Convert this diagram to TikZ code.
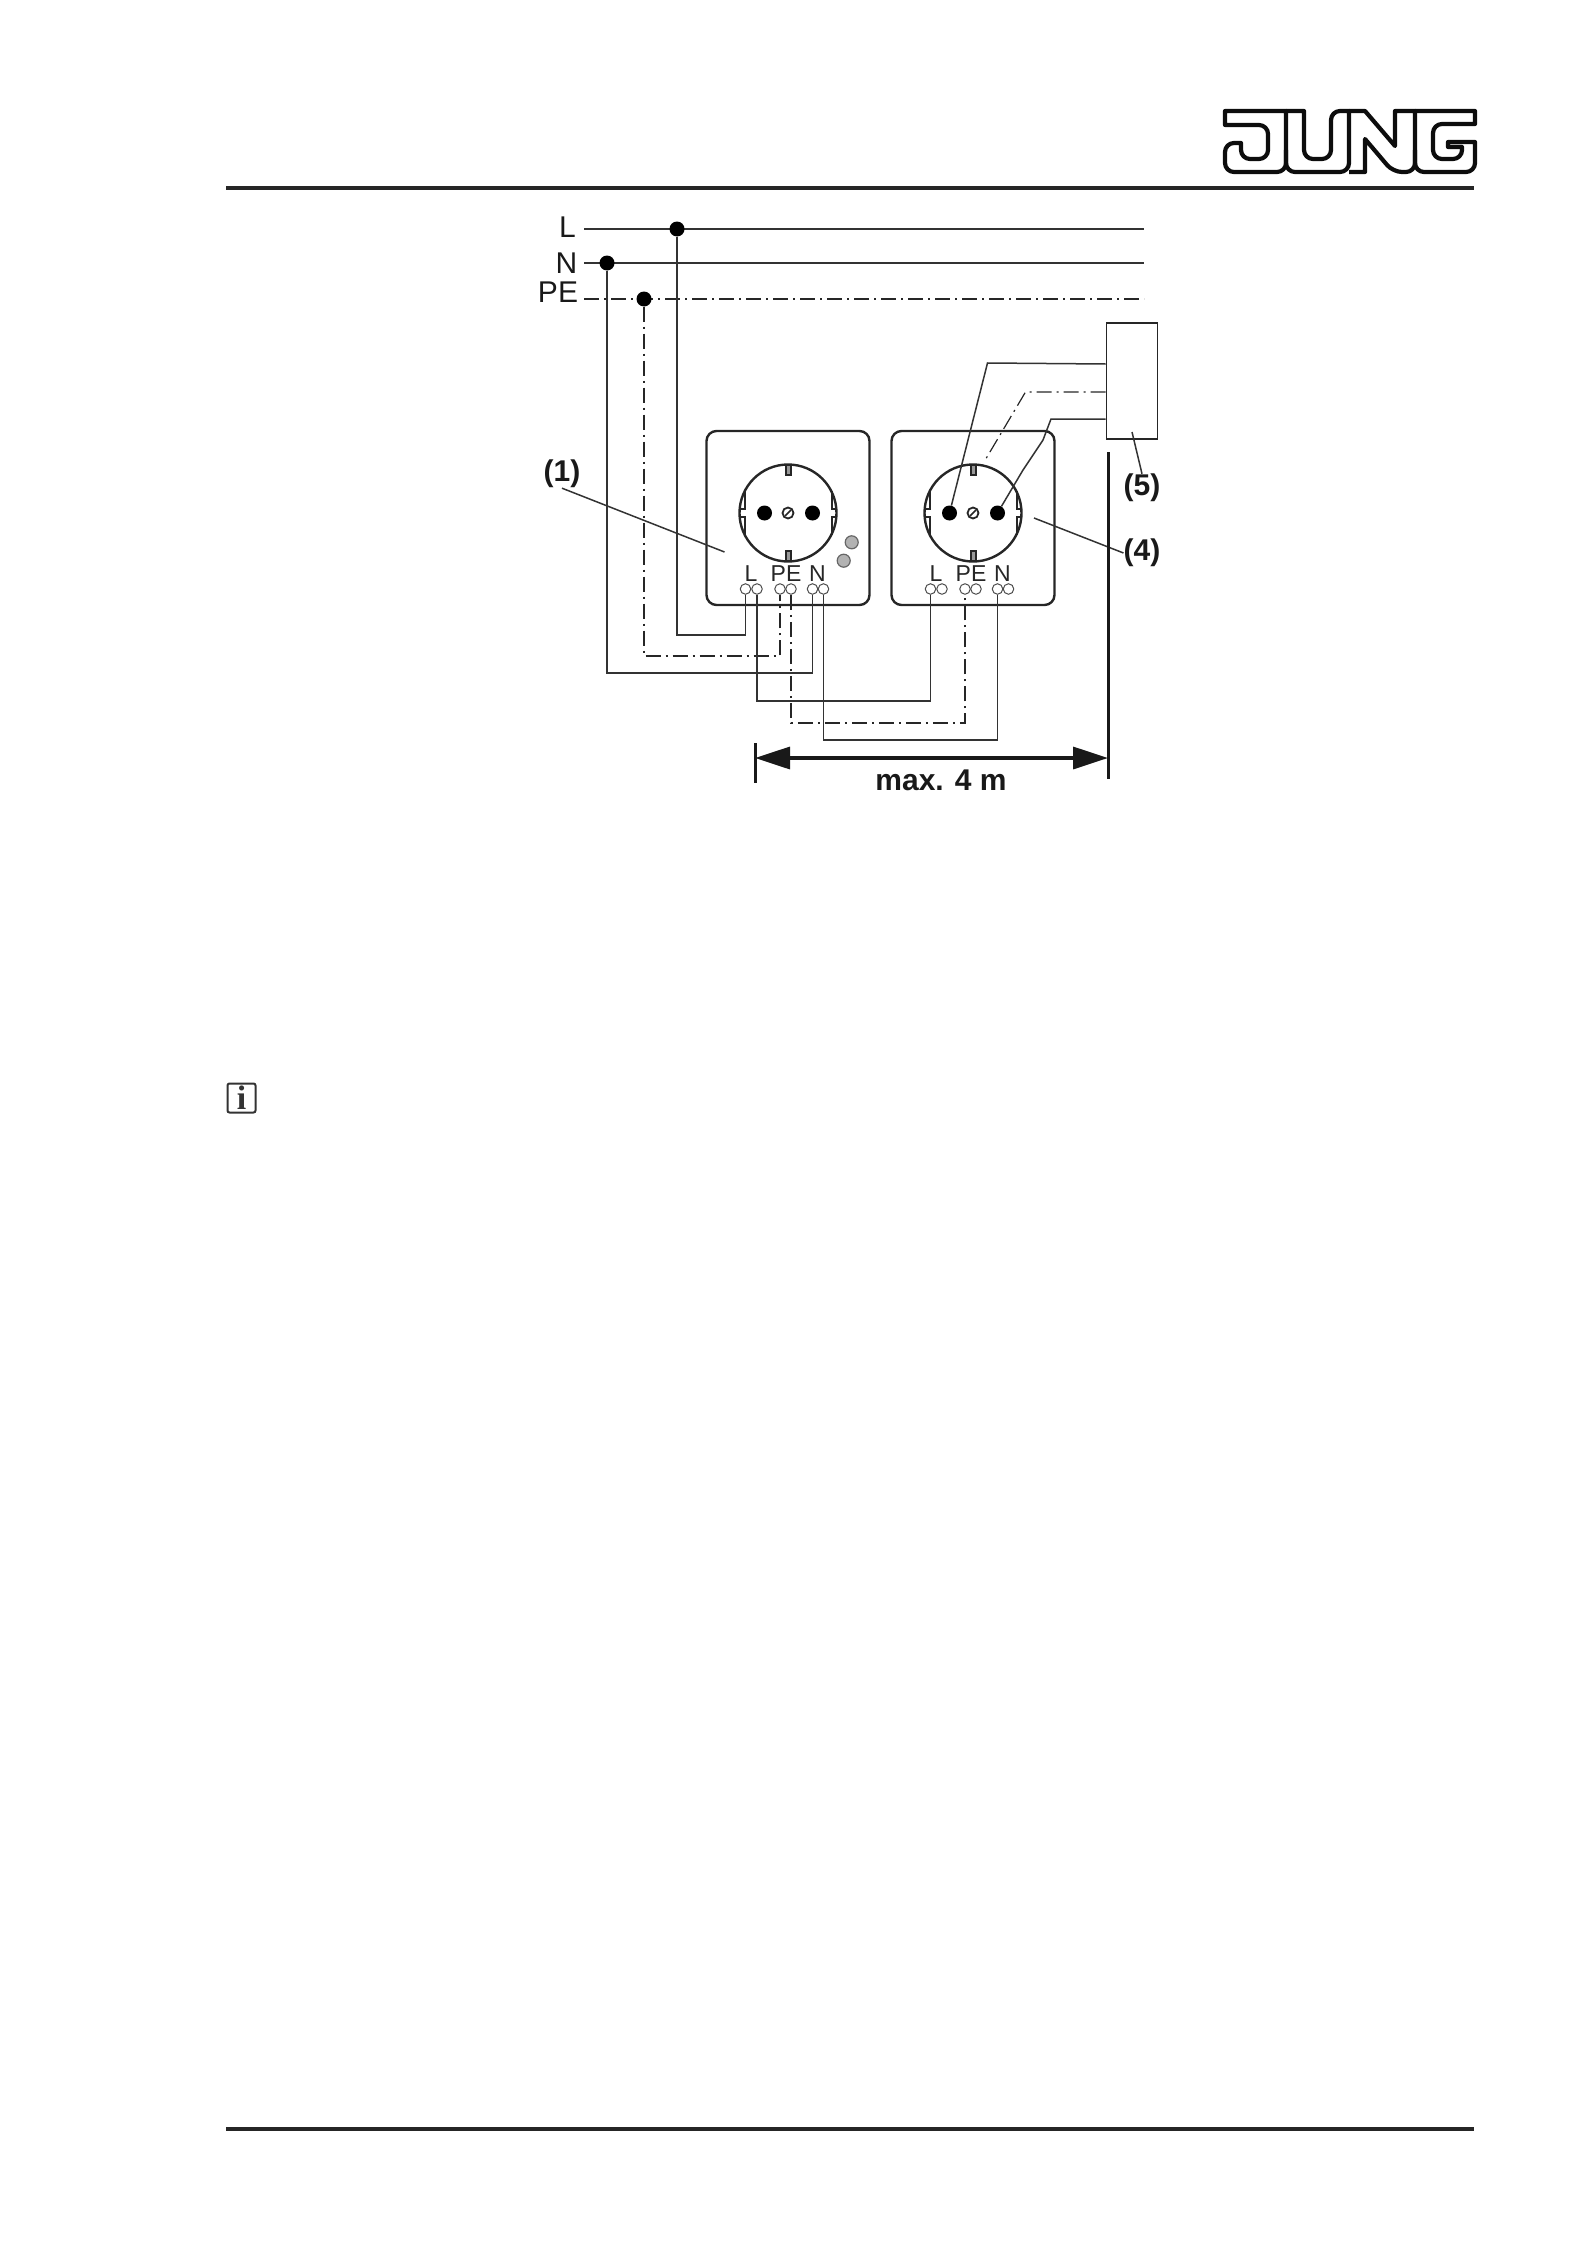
\documentclass[tikz,border=0pt]{standalone}
\usepackage{fontspec}
\setmainfont{Liberation Sans}
\newfontfamily\iconfont{Liberation Serif}
\usetikzlibrary{arrows.meta}
\tikzset{
  rule/.style={line width=4pt,black!85},
  logoline/.style={line width=4.2pt,black!95,line join=round},
  bus/.style={line width=2pt,black!80},
  wire/.style={line width=1.5pt,black!80},
  earth/.style={line width=1.2pt,black!85,dash pattern=on 15pt off 5pt on 2pt off 5pt},
  joint/.style={circle,fill=black,inner sep=0pt,minimum width=13pt,minimum height=15pt},
  plate/.style={draw,line width=2.4pt,black!85,rounded corners=10pt,minimum width=163pt,minimum height=174pt,inner sep=0pt},
  terminal/.style={circle,draw,line width=1pt,black!70,inner sep=0pt,minimum size=10.5pt},
  hole/.style={circle,fill=black,inner sep=0pt,minimum width=14pt,minimum height=15pt},
  led/.style={circle,draw,line width=1.2pt,black!60,fill=black!30,inner sep=0pt,minimum size=13pt},
  tag/.style={font=\fontsize{30}{30}\selectfont,inner sep=0pt,black!90},
  callout/.style={font=\bfseries\fontsize{30}{30}\selectfont,inner sep=0pt,black!90},
  small/.style={font=\fontsize{23}{23}\selectfont,inner sep=0pt,black!85},
  socket/.pic={
    \node[plate] (-plate) at (0,5) {};
    \draw[line width=2.4pt,black!85] (0,0) circle [radius=48.5];
    \draw[line width=2pt,black!85] (-43.5,-22) -- (-43.5,-4) -- (-48.5,-4) (-43.5,22) -- (-43.5,4) -- (-48.5,4);
    \draw[line width=2pt,black!85] (43.5,-22) -- (43.5,-4) -- (48.5,-4) (43.5,22) -- (43.5,4) -- (48.5,4);
    \draw[line width=2pt,black!85,fill=black!40] (-2.5,-48) rectangle (2.5,-38) (-2.5,38) rectangle (2.5,48);
    \node[hole] (-h1) at (-23.5,0) {};
    \node[hole] (-h2) at (24.5,0) {};
    \node[circle,draw,line width=1.8pt,black!85,inner sep=0pt,minimum size=11pt] (-pin) at (0,0) {};
    \draw[line width=1.5pt,black!85] (-3,3) -- (3,-3);
    \node[small] (-lL) at (-37,61) {L};
    \node[small] (-lPE) at (-2,61) {PE};
    \node[small] (-lN) at (29.5,61) {N};
    \node[terminal] (-t1) at (-42.5,76) {};
    \node[terminal] (-t2) at (-31,76) {};
    \node[terminal] (-t3) at (-8,76) {};
    \node[terminal] (-t4) at (3,76) {};
    \node[terminal] (-t5) at (24.5,76) {};
    \node[terminal] (-t6) at (35.5,76) {};
  }
}

\begin{document}
\begin{tikzpicture}[x=1pt,y=-1pt]
  \useasboundingbox (0,0) rectangle (1587,2245);
  % header and footer
  \coordinate (ruleTa) at (226,188);
  \coordinate (ruleTb) at (1474,188);
  \coordinate (ruleBa) at (226,2129);
  \coordinate (ruleBb) at (1474,2129);
  \draw[rule] (ruleTa) -- (ruleTb);
  \draw[rule] (ruleBa) -- (ruleBb);
  \draw[logoline] (1225,111) -- (1286,111) [rounded corners=9pt] -- (1286,172) -- (1225,172) -- (1225,143) [sharp corners] -- (1241,143) [rounded corners=9pt] -- (1241,159) -- (1268,159) -- (1268,125) [sharp corners] -- (1225,125) -- cycle;
  \draw[logoline] (1286,111) -- (1304,111) [rounded corners=9pt] -- (1304,159) -- (1331,159) -- (1331,111) [sharp corners] -- (1349,111) [rounded corners=9pt] -- (1349,172) -- (1286,172) -- (1286,150);
  \draw[logoline] (1349,111) -- (1365,111) -- (1395,146) -- (1395,111) -- (1415,111) [rounded corners=9pt] -- (1415,172) -- (1393,172) [sharp corners] -- (1365,139) -- (1365,172) [rounded corners=9pt] -- (1349,172);
  \draw[logoline] (1415,111) -- (1475,111) -- (1475,124) [rounded corners=9pt] -- (1433,124) -- (1433,159) -- (1462,159) [sharp corners] -- (1462,147) -- (1448,147) -- (1448,142) -- (1475,142) [rounded corners=9pt] -- (1475,172) -- (1415,172) -- (1415,150);
  \node[draw,line width=2pt,black!80,rounded corners=2pt,minimum width=28pt,minimum height=29pt,inner sep=0pt,font=\iconfont\bfseries\fontsize{34}{34}\selectfont] (info) at (241.5,1098) {i};

  % supply lines
  \node[tag] (tagL) at (567.5,227) {L};
  \node[tag] (tagN) at (566.5,263) {N};
  \node[tag] (tagPE) at (558,292) {PE};
  \coordinate (busLa) at (584,229);
  \coordinate (busLb) at (1144,229);
  \coordinate (busNa) at (584,263);
  \coordinate (busNb) at (1144,263);
  \coordinate (busPa) at (584,299);
  \coordinate (busPb) at (1144,299);
  \draw[bus] (busLa) -- (busLb);
  \draw[bus] (busNa) -- (busNb);
  \draw[earth,line width=1.6pt] (busPa) -- (busPb);
  \node[joint] (dotL) at (677,229) {};
  \node[joint] (dotN) at (607,263) {};
  \node[joint] (dotPE) at (644,299) {};

  \pic (sockA) at (788,513) {socket};
  \pic (sockB) at (973,513) {socket};
  \node[led] (ledA) at (851.7,542.3) {};
  \node[led] (ledB) at (843.7,560.7) {};

  % feed to first socket
  \draw[wire] (dotL) -- (677,635) -| (sockA-t1);
  \draw[earth] (dotPE) -- (644,656) -| (sockA-t3);
  \draw[wire] (dotN) -- (607,673) -| (sockA-t5);
  % first to second socket
  \draw[wire] (sockA-t2) |- (sockB-t1 |- 0,701) -- (sockB-t1);
  \draw[earth] (sockA-t4) |- (sockB-t3 |- 0,723) -- (sockB-t3);
  \draw[wire] (sockA-t6) |- (sockB-t5 |- 0,740) -- (sockB-t5);

  % box at the wall
  \node[draw,line width=1.8pt,black!85,minimum width=51pt,minimum height=116pt,inner sep=0pt] (wallbox) at (1132,381) {};
  \coordinate (boxL) at (wallbox.west |- 0,364);
  \coordinate (boxPE) at (wallbox.west |- 0,392);
  \coordinate (boxN) at (wallbox.west |- 0,419);
  \draw[wire] (boxL) -- (987.5,363) -- (sockB-h1);
  \draw[earth] (boxPE) -- (1025.5,392) -- (984,462);
  \draw[wire] (boxN) -- (1051,419) -- (1043,440) -- (1023,470) -- (sockB-h2);

  % callouts
  \node[callout] (lab1) at (562,474) {(1)};
  \node[callout] (lab5) at (1142,488) {(5)};
  \node[callout] (lab4) at (1142,553) {(4)};
  \coordinate (lead1) at (724.5,552);
  \coordinate (lead5) at (1132,432);
  \coordinate (lead4) at (1034,518);
  \draw[wire] (lab1.south) -- (lead1);
  \draw[wire] (lead5) -- (lab5.north);
  \draw[wire] (lead4) -- (lab4.west);

  % distance
  \coordinate (dimAa) at (755,743);
  \coordinate (dimAb) at (755,783);
  \coordinate (dimBa) at (1108,452);
  \coordinate (dimBb) at (1108,779);
  \coordinate (dimA) at (755,758);
  \coordinate (dimB) at (1108,758);
  \draw[line width=3pt,black!90] (dimAa) -- (dimAb);
  \draw[line width=3pt,black!90] (dimBa) -- (dimBb);
  \draw[line width=3.4pt,black!90,{Triangle[length=35pt,width=22pt]}-{Triangle[length=35pt,width=22pt]}] (dimA) -- (dimB);
  \node[callout] (dimtext) at (941,780) {max. 4 m};
\end{tikzpicture}
\end{document}
